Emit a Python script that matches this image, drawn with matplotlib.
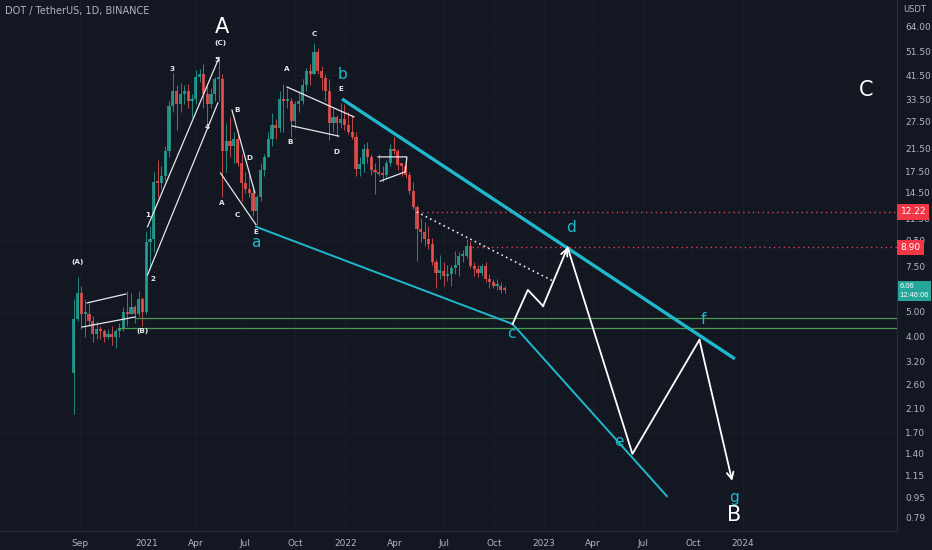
import numpy as np
import pandas as pd
import matplotlib
matplotlib.use("Agg")
import matplotlib.pyplot as plt
import matplotlib.dates as mdates
from matplotlib.ticker import NullLocator

# ---- weekly DOT/USDT candles, weeks starting 2020-08-17
first_open = 2.9
closes = [4.7, 5.9, 4.9, 4.9, 4.6, 4.1, 4.3, 4.2, 4.0, 4.1, 4.0, 4.2, 4.3, 5.0, 4.9, 5.2, 4.9, 5.6, 5.0, 9.3,
          9.6, 16.0, 15.8, 16.8, 21.0, 31.5, 36.0, 32.0, 35.0, 36.0, 33.0, 33.5, 41.0, 42.0, 35.0, 32.0,
          35.0, 40.0, 40.0, 21.0, 23.0, 22.0, 23.5, 19.0, 15.8, 15.0, 14.5, 12.3, 14.0, 17.8, 20.0, 23.5,
          26.5, 26.0, 33.5, 33.0, 33.0, 27.5, 32.0, 33.0, 38.0, 43.0, 42.0, 51.0, 43.0, 40.5, 36.0, 27.0,
          28.5, 27.0, 28.0, 26.5,
          25.0, 24.0, 18.0, 18.8, 21.5, 20.0, 17.8, 17.5, 17.2, 17.0, 19.0, 21.5, 21.0, 18.6, 18.5, 17.0,
          14.8, 12.8, 10.5, 10.2, 9.6, 9.2, 7.8, 7.1, 7.2, 6.9, 7.0, 7.4, 7.6, 8.2, 8.2, 9.0, 7.5, 7.3,
          7.1, 7.5, 6.7, 6.5, 6.3, 6.3, 6.1, 6.06]
highs = [5.6, 6.8, 6.3, 5.6, 5.4, 4.8, 4.6, 4.4, 4.3, 4.3, 4.4, 4.3, 4.5, 5.2, 6.0, 5.9, 5.3, 6.0, 5.7, 10.3,
         10.8, 17.5, 19.4, 18.5, 22.0, 33.0, 42.5, 38.0, 38.8, 38.0, 38.5, 35.0, 43.5, 44.0, 46.0, 38.0,
         37.0, 41.0, 49.5, 42.0, 27.0, 28.5, 25.0, 25.5, 20.5, 17.5, 17.3, 15.5, 14.2, 19.0, 20.5, 25.0,
         29.5, 28.0, 36.0, 38.3, 37.0, 34.0, 33.0, 36.0, 40.0, 44.5, 46.0, 55.4, 53.0, 45.0, 42.0, 40.0,
         31.0, 29.0, 32.5, 32.0,
         30.0, 29.0, 25.0, 20.0, 22.5, 22.9, 20.5, 19.0, 20.5, 18.5, 19.5, 22.5, 23.8, 21.5, 19.0, 19.5,
         17.5, 16.0, 13.0, 11.6, 11.2, 10.8, 9.7, 8.0, 8.3, 7.8, 7.6, 7.6, 8.6, 8.5, 8.7, 9.6, 9.4, 7.8,
         7.6, 7.7, 7.8, 7.0, 6.7, 6.7, 6.5, 6.3]
lows = [2.0, 4.6, 4.3, 4.0, 4.4, 3.8, 3.9, 3.9, 3.8, 3.9, 3.7, 3.6, 4.0, 4.2, 4.4, 4.9, 4.5, 4.8, 4.4, 4.9,
        7.3, 8.5, 14.0, 15.0, 16.1, 20.0, 30.0, 25.5, 30.0, 32.0, 31.0, 28.5, 32.0, 39.0, 31.0, 26.5,
        31.0, 33.0, 33.0, 14.0, 17.5, 20.0, 19.0, 18.5, 13.5, 14.5, 14.0, 11.8, 10.9, 13.5, 16.8, 20.0,
        22.0, 23.5, 25.0, 25.0, 31.0, 24.0, 26.0, 30.0, 32.0, 36.0, 38.0, 42.0, 42.0, 36.5, 33.0, 23.3,
        25.0, 24.0, 26.0, 25.5,
        24.5, 23.5, 16.8, 16.9, 17.5, 19.0, 17.0, 14.4, 16.8, 16.0, 16.5, 18.5, 20.5, 17.8, 16.8, 16.5,
        14.3, 12.5, 7.9, 9.3, 9.0, 8.8, 7.6, 6.2, 6.7, 6.3, 6.6, 6.3, 7.0, 6.9, 7.8, 8.1, 7.4, 6.9,
        6.8, 6.9, 6.5, 6.2, 6.2, 6.1, 5.9, 5.9]

# ---- drawings (date, price)
upper_cyan = [("2021-12-26", 33.6), ("2023-12-17", 3.28)]
lower_cyan = [("2021-07-21", 10.7), ("2022-11-04", 4.48)]
lower_cyan2 = [("2022-11-04", 4.48), ("2023-08-14", 0.96)]
projection = [("2022-11-04", 4.48), ("2022-12-02", 6.08), ("2022-12-30", 5.26), ("2023-02-13", 8.90),
              ("2023-06-12", 1.40), ("2023-10-13", 3.89), ("2023-12-12", 1.10)]
dotted_white = [("2022-05-12", 12.22), ("2023-01-17", 6.59)]
red_levels = [(12.22, "2022-05-12"), (8.90, "2022-08-21")]
green_levels = [(4.73, "2020-12-11"), (4.33, "2020-11-09")]
white_shapes = [
    [("2020-09-14", 5.41), ("2020-11-24", 5.86)],
    [("2020-09-05", 4.36), ("2020-12-11", 4.77)],
    [("2021-01-03", 10.7), ("2021-05-14", 48.5)],
    [("2021-01-03", 6.95), ("2021-05-12", 32.4)],
    [("2021-06-07", 30.4), ("2021-07-19", 14.5)],
    [("2021-05-17", 17.3), ("2021-07-21", 10.9)],
    [("2021-09-16", 37.4), ("2022-01-17", 28.6)],
    [("2021-09-25", 26.4), ("2021-12-20", 24.1)],
    [("2022-03-02", 20.0), ("2022-04-24", 20.0), ("2022-04-21", 17.5), ("2022-03-06", 16.1)],
]
small_labels = [("(A)", "2020-08-28", 7.81), ("(B)", "2020-12-25", 4.2), ("1", "2021-01-03", 11.9),
                ("2", "2021-01-12", 6.7), ("3", "2021-02-16", 43.9), ("4", "2021-04-22", 26.1),
                ("5", "2021-05-10", 47.6), ("(C)", "2021-05-16", 55.5),
                ("A", "2021-05-19", 13.2), ("B", "2021-06-16", 30.4), ("C", "2021-06-17", 11.9),
                ("D", "2021-07-09", 19.8), ("E", "2021-07-20", 10.2),
                ("A", "2021-09-16", 43.9), ("B", "2021-09-21", 22.9), ("C", "2021-11-06", 60.1),
                ("D", "2021-12-15", 20.9), ("E", "2021-12-24", 36.7)]
cyan_labels = [("a", "2021-07-20", 9.3), ("b", "2021-12-26", 42.0), ("c", "2022-11-01", 4.13),
               ("d", "2023-02-19", 10.6), ("e", "2023-05-18", 1.57), ("f", "2023-10-21", 4.65),
               ("g", "2023-12-15", 0.95)]
big_labels = [("A", "2021-05-19", 64.0), ("B", "2023-12-15", 0.81), ("C", "2024-08-14", 36.4)]

price_ticks = [64, 51.5, 41.5, 33.5, 27.5, 21.5, 17.5, 14.5, 11.5, 9.5, 7.5, 5.0, 4.0,
               3.2, 2.6, 2.1, 1.7, 1.4, 1.15, 0.95, 0.79]
month_ticks = ["2020-09-01", "2021-01-01", "2021-04-01", "2021-07-01", "2021-10-01", "2022-01-01",
               "2022-04-01", "2022-07-01", "2022-10-01", "2023-01-01", "2023-04-01", "2023-07-01",
               "2023-10-01", "2024-01-01"]
month_names = ["Sep", "2021", "Apr", "Jul", "Oct", "2022", "Apr", "Jul", "Oct", "2023", "Apr", "Jul",
               "Oct", "2024"]

BG = "#131722"
TXT = "#b2b5be"
UP, DOWN = "#26a69a", "#ef5350"
CYAN = "#1fb8cd"
WHITE = "#e6e8ee"

def d(s):
    return mdates.date2num(pd.Timestamp(s))

fig = plt.figure(figsize=(9.32, 5.5), dpi=100, facecolor=BG)
ax = fig.add_axes([0, 19 / 550, 897 / 932, 531 / 550])
ax.set_facecolor(BG)
ax.set_yscale("log")

ref = pd.Timestamp("2020-09-01")
ax.set_xlim(d(ref - pd.Timedelta(days=146.8)), d(ref + pd.Timedelta(days=1499.6)))
ax.set_ylim(0.702, 81.5)

# candles
weeks = pd.date_range("2020-08-17", periods=len(closes), freq="7D")
xs = mdates.date2num(weeks) + 3.5
opens = [first_open] + closes[:-1]
cols = [UP if c >= o else DOWN for o, c in zip(opens, closes)]
ax.vlines(xs, lows, highs, colors=cols, lw=0.7, alpha=0.8, zorder=2)
bottoms = [min(o, c) for o, c in zip(opens, closes)]
heights = [max(abs(c - o), 0.02 * c) for o, c in zip(opens, closes)]
ax.bar(xs, heights, bottom=bottoms, width=5.8, color=cols, alpha=0.8, zorder=2, linewidth=0)

# grid
for t in price_ticks:
    ax.axhline(t, color="#1a1e29", lw=0.6, zorder=0)
for m in month_ticks:
    ax.axvline(d(m), color="#1a1e29", lw=0.6, zorder=0)

# level lines
for lvl, start in red_levels:
    ax.plot([d(start), ax.get_xlim()[1]], [lvl, lvl], color="#e0405a", lw=1.0, ls=(0, (1, 2.5)), zorder=3)
for lvl, start in green_levels:
    ax.plot([d(start), ax.get_xlim()[1]], [lvl, lvl], color="#4c9a50", lw=0.9, zorder=3)

def line(pts, **kw):
    ax.plot([d(p[0]) for p in pts], [p[1] for p in pts], **kw)

for shp in white_shapes:
    line(shp, color=WHITE, lw=0.9, zorder=4)
line(dotted_white, color=WHITE, lw=1.2, ls=(0, (1, 2)), zorder=4)
line(upper_cyan, color=CYAN, lw=2.4, zorder=4, solid_capstyle="butt")
line(lower_cyan, color=CYAN, lw=1.4, zorder=4)
line(lower_cyan2, color=CYAN, lw=1.4, zorder=4)

# projected path with arrows
arrow_kw = dict(arrowstyle="->", color="white", lw=1.3, mutation_scale=12, shrinkA=0, shrinkB=0)
line(projection[:3], color="white", lw=1.3, zorder=5)
ax.annotate("", xy=(d(projection[3][0]), projection[3][1]),
            xytext=(d(projection[2][0]), projection[2][1]), arrowprops=arrow_kw, zorder=5)
line(projection[3:6], color="white", lw=1.3, zorder=5)
ax.annotate("", xy=(d(projection[6][0]), projection[6][1]),
            xytext=(d(projection[5][0]), projection[5][1]), arrowprops=arrow_kw, zorder=5)

# labels
for txt, dt, p in small_labels:
    ax.text(d(dt), p, txt, color=WHITE, fontsize=5.2, fontweight="bold", ha="center", va="center", zorder=6)
for txt, dt, p in cyan_labels:
    ax.text(d(dt), p, txt, color=CYAN, fontsize=11, ha="center", va="center", zorder=6)
for txt, dt, p in big_labels:
    ax.text(d(dt), p, txt, color="white", fontsize=15, ha="center", va="center", zorder=6)

# axes styling
for s in ["top", "left"]:
    ax.spines[s].set_visible(False)
ax.spines["right"].set_color("#2a2e39")
ax.spines["bottom"].set_color("#2a2e39")
ax.yaxis.tick_right()
ax.yaxis.set_minor_locator(NullLocator())
ax.set_yticks(price_ticks)
ax.set_yticklabels([f"{t:.2f}" for t in price_ticks])
ax.set_xticks([d(m) for m in month_ticks])
ax.set_xticklabels(month_names)
ax.tick_params(axis="both", length=0, colors=TXT, labelsize=6.5)
ax.tick_params(axis="y", pad=6)
ax.tick_params(axis="x", pad=6)

# price tags on the axis
yt = ax.get_yaxis_transform()
for lvl in [12.22, 8.90]:
    ax.text(1.004, lvl, f"{lvl:.2f}", transform=yt, color="white", fontsize=6.5, ha="left", va="center",
            bbox=dict(boxstyle="square,pad=0.35", fc="#f23645", ec="none"), clip_on=False, zorder=7)
ax.text(1.003, 6.45, "6.06\n12:46:06", transform=yt, color="white", fontsize=5.4,
        family="Liberation Sans", ha="left", va="top", linespacing=1.3,
        bbox=dict(boxstyle="square,pad=0.25", fc="#26a69a", ec="none"), clip_on=False, zorder=7)

fig.text(903 / 932, 1 - 9 / 550, "USDT", color=TXT, fontsize=6, ha="left", va="center")
fig.text(5 / 932, 1 - 11 / 550, "DOT / TetherUS, 1D, BINANCE", color=TXT, fontsize=7, ha="left", va="center")

fig.savefig("out.png", dpi=100, facecolor=BG)
